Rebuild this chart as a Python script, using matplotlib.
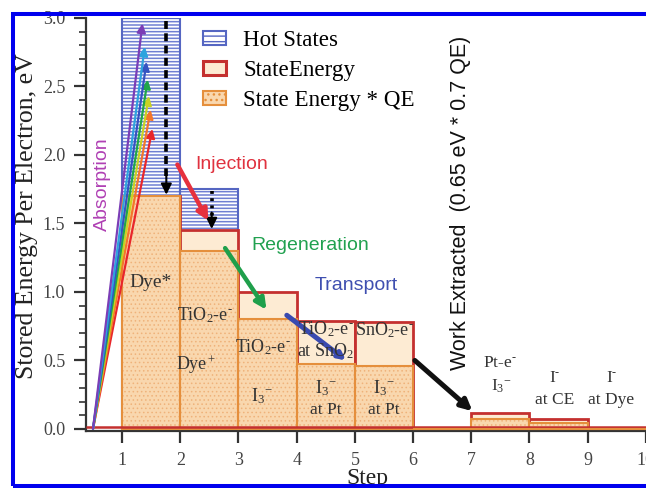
import matplotlib
matplotlib.use('Agg')
import matplotlib.pyplot as plt
from matplotlib.patches import Rectangle, Patch

plt.rcParams['font.family'] = ['Liberation Serif', 'DejaVu Serif']
plt.rcParams['mathtext.fontset'] = 'custom'
plt.rcParams['mathtext.rm'] = 'Liberation Serif'
plt.rcParams['mathtext.it'] = 'Liberation Serif:italic'
plt.rcParams['mathtext.bf'] = 'Liberation Serif:bold'

# ---------------- data ----------------
step_left = [1, 2, 3, 4, 5, 6, 7, 8, 9]
hot_states = [3.0, 1.75, 0, 0, 0, 0, 0, 0, 0]
state_energy = [1.70, 1.45, 1.00, 0.79, 0.78, 0.0, 0.12, 0.07, 0.0]
state_energy_qe = [1.70, 1.30, 0.80, 0.475, 0.46, 0.0, 0.075, 0.045, 0.0]

x_ticks = [1, 2, 3, 4, 5, 6, 7, 8, 9, 10]
y_ticks = [0.0, 0.5, 1.0, 1.5, 2.0, 2.5, 3.0]

SUPM = r'$^{\text{-}}$'
I3 = r'I$_{3}{}^{-}$'
bar_text = ['Dye*', 'TiO$_2$-e' + SUPM, 'Dye$^+$', 'TiO$_2$-e' + SUPM, I3,
            'TiO$_2$-e' + SUPM, 'at SnO$_2$', I3, 'at Pt',
            'SnO$_2$-e' + SUPM, I3, 'at Pt',
            'Pt-e' + SUPM, I3, 'I' + SUPM, 'at CE', 'I' + SUPM, 'at Dye']
bar_text_x = [1.48, 2.42, 2.28, 3.42, 3.40, 4.50, 4.50, 4.50, 4.50,
              5.50, 5.50, 5.50, 7.49, 7.52, 8.44, 8.44, 9.41, 9.41]
bar_text_y = [1.07, 0.83, 0.47, 0.60, 0.24, 0.73, 0.57, 0.30, 0.14,
              0.72, 0.30, 0.14, 0.48, 0.31, 0.37, 0.21, 0.37, 0.21]
bar_text_size = [14, 13, 13, 13, 13, 13, 13, 13, 12.5,
                 13, 13, 12.5, 12.5, 12.5, 12.5, 12.5, 12.5, 12.5]

absorb_start = (0.5, 0.0)
absorb_tip_x = [1.52, 1.49, 1.46, 1.44, 1.42, 1.39, 1.35]
absorb_tip_y = [2.19, 2.33, 2.43, 2.55, 2.68, 2.79, 2.96]
absorb_colors = ['#e8262b', '#f3762a', '#c9d223', '#21a649', '#3553c1', '#2ea3de', '#7b3db6']

legend_labels = ['Hot States', 'StateEnergy', 'State Energy * QE']

# colours
hot_face, hot_hatch, hot_edge = '#ffffff', '#6f7fd2', '#5566c2'
se_face, se_edge = '#fdebd3', '#c4302f'
qe_face, qe_hatch, qe_edge = '#f9d7ae', '#efb27a', '#e58f3c'

# ---------------- figure ----------------
fig = plt.figure(figsize=(6.46, 4.88), dpi=100)
ax = fig.add_axes([86 / 646, (488 - 431) / 488, (675 - 86) / 646, (431 - 18) / 488])
ax.set_xlim(0.38, 10.5)
ax.set_ylim(-0.015, 3.0)

# hot states
hot_x = [x for x, h in zip(step_left, hot_states) if h > 0]
hot_h = [h for h in hot_states if h > 0]
with plt.rc_context({'hatch.linewidth': 1.1}):
    ax.bar(hot_x, hot_h, width=1.0, align='edge', facecolor=hot_face,
           edgecolor=hot_hatch, hatch='-----', linewidth=0, zorder=1)
ax.bar(hot_x, hot_h, width=1.0, align='edge', fill=False,
       edgecolor=hot_edge, linewidth=1.5, zorder=1.1)

# state energy
ax.bar(step_left, state_energy, width=1.0, align='edge', facecolor=se_face,
       edgecolor=se_edge, linewidth=2.0, zorder=2)
# state energy * QE
with plt.rc_context({'hatch.linewidth': 0.6}):
    ax.bar(step_left, state_energy_qe, width=1.0, align='edge', facecolor=qe_face,
           edgecolor=qe_hatch, hatch='....', linewidth=0, zorder=3)
ax.bar(step_left, state_energy_qe, width=1.0, align='edge', fill=False,
       edgecolor=qe_edge, linewidth=1.5, zorder=3.1)

ax.hlines(0.012, 0.38, 10.5, color=se_edge, lw=1.8, zorder=3.2)
ax.hlines(0.002, 6.0, 10.5, color=qe_edge, lw=1.5, zorder=3.2)

# absorption arrows
for tx, ty, c in zip(absorb_tip_x, absorb_tip_y, absorb_colors):
    ax.annotate('', xy=(tx, ty), xytext=absorb_start,
                arrowprops=dict(arrowstyle='-|>', color=c, lw=1.6,
                                mutation_scale=13, shrinkA=0, shrinkB=0),
                zorder=5)

# dashed relaxation arrows
ax.plot([1.76, 1.76], [2.98, 1.85], color='k', lw=2.6, ls=(0, (2.2, 1.2)), zorder=5)
ax.annotate('', xy=(1.76, 1.71), xytext=(1.76, 1.88),
            arrowprops=dict(arrowstyle='-|>', color='k', lw=1.5,
                            mutation_scale=16, shrinkA=0, shrinkB=0), zorder=5)
ax.plot([2.54, 2.54], [1.74, 1.55], color='k', lw=2.6, ls=(0, (0.8, 1.2)), zorder=5)
ax.annotate('', xy=(2.54, 1.46), xytext=(2.54, 1.58),
            arrowprops=dict(arrowstyle='-|>', color='k', lw=1.5,
                            mutation_scale=16, shrinkA=0, shrinkB=0), zorder=5)

# process arrows
def big_arrow(p0, p1, c, lw=3.2, ms=16):
    ax.annotate('', xy=p1, xytext=p0,
                arrowprops=dict(arrowstyle='-|>', color=c, lw=lw,
                                mutation_scale=ms, shrinkA=0, shrinkB=0), zorder=5)

big_arrow((1.95, 1.93), (2.48, 1.52), '#e6313e')
big_arrow((2.77, 1.32), (3.48, 0.87), '#1f9f4b')
big_arrow((3.83, 0.83), (4.85, 0.50), '#3a4ab0', lw=3.6, ms=10)
big_arrow((6.03, 0.50), (7.02, 0.13), '#111111', lw=3.6)

# annotation texts (sans)
sans = ['Liberation Sans', 'DejaVu Sans']
ax.text(0.66, 1.79, 'Absorption', rotation=90, ha='center', va='center',
        fontsize=14, color='#b040b4', family=sans, zorder=6)
ax.text(2.89, 1.93, 'Injection', ha='center', va='center', fontsize=14,
        color='#e0323f', family=sans, zorder=6)
ax.text(4.24, 1.34, 'Regeneration', ha='center', va='center', fontsize=14,
        color='#21a150', family=sans, zorder=6)
ax.text(5.02, 1.05, 'Transport', ha='center', va='center', fontsize=14,
        color='#3f4fb0', family=sans, zorder=6)
ax.text(6.82, 1.65, 'Work Extracted  (0.65 eV * 0.7 QE)', rotation=90,
        ha='center', va='center', fontsize=15.5, color='#111111', family=sans, zorder=6)

# bar labels
for t, x, y, s in zip(bar_text, bar_text_x, bar_text_y, bar_text_size):
    ax.text(x, y, t, ha='center', va='center', fontsize=s, color='#333333', zorder=7)

# axes styling
for side in ['top', 'right']:
    ax.spines[side].set_visible(False)
for side in ['left', 'bottom']:
    ax.spines[side].set_linewidth(1.6)
    ax.spines[side].set_color('#333333')
ax.set_xticks(x_ticks)
ax.set_xticklabels([str(v) for v in x_ticks])
ax.set_yticks(y_ticks)
ax.set_yticklabels(['%.1f' % v for v in y_ticks])
ax.set_yticks([i / 10 for i in range(31)], minor=True)
ax.tick_params(axis='both', which='major', direction='out', length=8.5, width=1.6,
               pad=6.5, labelsize=13, colors='#333333')
ax.tick_params(axis='both', which='major', labelcolor='#444444')
ax.tick_params(axis='y', which='minor', direction='out', length=5, width=1.2,
               colors='#333333')
ax.set_ylabel('Stored Energy Per Electron, eV', fontsize=18.5, color='#222222')
ax.yaxis.set_label_coords(-0.082, 0.52)
ax.set_xlabel('Step', fontsize=17, color='#222222')
ax.xaxis.set_label_coords((367 - 86) / 589, -0.090)

# legend
handles = [Patch(facecolor='white', edgecolor=hot_edge, hatch='---', lw=1.5),
           Patch(facecolor=se_face, edgecolor=se_edge, lw=2.2),
           Patch(facecolor=qe_face, edgecolor=qe_edge, hatch='...', lw=1.5)]
fig.legend(handles, legend_labels, loc='upper left',
           bbox_to_anchor=(203 / 646, (488 - 30) / 488), frameon=False,
           fontsize=16.6, handlelength=1.0, handleheight=0.55, handletextpad=0.75,
           labelspacing=0.40, borderpad=0, borderaxespad=0)

# blue border
fig.add_artist(Rectangle((13 / 646, 2.5 / 488), 1.2, (474 - 2.5) / 488,
                         transform=fig.transFigure, fill=False,
                         edgecolor='#0000ee', linewidth=2.9, zorder=10))

fig.savefig('out.png', dpi=100)
